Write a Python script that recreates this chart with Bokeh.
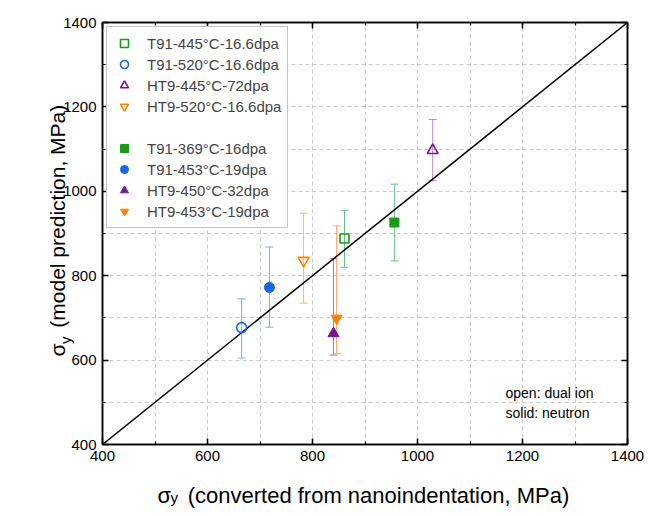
import math
from bokeh.plotting import figure
from bokeh.models import (ColumnDataSource, Whisker, TeeHead, Legend, LegendItem,
                          LinearAxis, FixedTicker, SingleIntervalTicker, Label, Range1d)
from bokeh.embed import file_html
from bokeh.resources import INLINE

# ---------------- data ----------------
labels_open = ["T91-445°C-16.6dpa", "T91-520°C-16.6dpa", "HT9-445°C-72dpa", "HT9-520°C-16.6dpa"]
x_open = [861, 665, 1029, 783]
y_open = [888, 677, 1097, 836]
lo_open = [820, 605, 1025, 735]
hi_open = [955, 745, 1170, 948]

labels_solid = ["T91-369°C-16dpa", "T91-453°C-19dpa", "HT9-450°C-32dpa", "HT9-453°C-19dpa"]
x_solid = [956, 718, 840, 846]
y_solid = [926, 772, 663, 699]
lo_solid = [835, 678, 612, 615]
hi_solid = [1017, 868, 840, 918]

markers = ["square", "circle", "triangle", "inverted_triangle"]
colors = ["#1a9a1a", "#1a64e6", "#7a1490", "#ff8000"]
bar_colors = ["#66c08a", "#74aef0", "#c27fd6", "#ffb45e"]
solid_bar_colors = ["#66c08a", "#74aef0", "#d06a9a", "#ff9f6a"]

grid_vals = [500, 600, 700, 800, 900, 1000, 1100, 1200, 1300]

FL, FT, FW, FH = 102, 22, 525, 422
FONT = "Liberation Sans"

p = figure(frame_width=FW, frame_height=FH, x_range=Range1d(400, 1400), y_range=Range1d(400, 1400),
           output_backend="svg", toolbar_location=None,
           min_border_left=FL, min_border_right=648 - FL - FW, min_border_top=FT,
           min_border_bottom=516 - FT - FH)
p.background_fill_color = "white"
p.border_fill_color = "white"
p.outline_line_color = "black"
p.outline_line_width = 1.5

def style_axis(ax, show_labels):
    ax.ticker = SingleIntervalTicker(interval=200, num_minor_ticks=2)
    ax.major_tick_in = 6
    ax.major_tick_out = 0
    ax.minor_tick_in = 3
    ax.minor_tick_out = 0
    ax.axis_line_width = 1.5
    ax.major_tick_line_width = 1.5
    ax.minor_tick_line_width = 1.2
    if show_labels:
        ax.major_label_text_font = FONT
        ax.major_label_text_font_size = "15px"
        ax.major_label_text_color = "black"
        ax.major_label_standoff = 6
    else:
        ax.major_label_text_alpha = 0
        ax.major_label_text_color = None
        ax.major_label_standoff = 0

style_axis(p.xaxis[0], True)
style_axis(p.yaxis[0], True)
for loc in ("above", "right"):
    ax = LinearAxis()
    style_axis(ax, False)
    p.add_layout(ax, loc)

for g in (p.xgrid[0], p.ygrid[0]):
    g.ticker = FixedTicker(ticks=grid_vals)
    g.grid_line_color = "#c8c8c8"
    g.grid_line_dash = "4 3"
    g.grid_line_width = 1

p.line(x=[400, 1400], y=[400, 1400], line_color="black", line_width=1.5)

def add_whiskers(xs, lo, hi, cols):
    for xv, l, h, c in zip(xs, lo, hi, cols):
        src = ColumnDataSource(dict(x=[xv], lower=[l], upper=[h]))
        w = Whisker(source=src, base="x", lower="lower", upper="upper", line_color=c, line_width=1,
                    upper_head=TeeHead(size=8, line_color=c, line_width=1),
                    lower_head=TeeHead(size=8, line_color=c, line_width=1))
        p.add_layout(w)

add_whiskers(x_open, lo_open, hi_open, bar_colors)
add_whiskers(x_solid, lo_solid, hi_solid, solid_bar_colors)

sizes = [9, 10, 11, 11]
items = []
for i in range(4):
    r = p.scatter(x=[x_open[i]], y=[y_open[i]], marker=markers[i], size=sizes[i],
                  line_color=colors[i], fill_color=None, line_width=1.6)
    items.append(LegendItem(label=labels_open[i], renderers=[r]))
blank = p.scatter(x=[400], y=[400], marker="circle", size=1, alpha=0)
items.append(LegendItem(label=" ", renderers=[blank]))
for i in range(4):
    r = p.scatter(x=[x_solid[i]], y=[y_solid[i]], marker=markers[i], size=sizes[i],
                  line_color=colors[i], fill_color=colors[i], line_width=1)
    items.append(LegendItem(label=labels_solid[i], renderers=[r]))

legend = Legend(items=items, location="top_left", margin=4, padding=6, spacing=1,
                glyph_width=22, glyph_height=20, label_height=15, label_standoff=12,
                label_text_font=FONT, label_text_font_size="15px",
                border_line_color="#888888", border_line_width=1,
                background_fill_color="white", background_fill_alpha=1)
p.add_layout(legend, "center")

def px2x(px):
    return 400 + (px - FL) * 1000.0 / FW

def py2y(py):
    return 1400 - (py - FT) * 1000.0 / FH

for txt, py in (("open: dual ion", 392), ("solid: neutron", 412)):
    p.add_layout(Label(x=px2x(505), y=py2y(py), text=txt,
                       text_font=FONT, text_font_size="14px", text_baseline="middle",
                       text_align="left", text_color="black"))

# axis titles: sigma with subscript y, placed in the side panels
# (each side-panel label sits in its own stacked slot, ~20px further out)
SLOT = 20
XFS, YFS = 22, 21
GAP = "\u00a0\u00a0\u2009"   # non-collapsing room for the subscript
xs0, xy0 = 55, -7
p.add_layout(Label(x=xs0, y=xy0, x_units="screen", y_units="screen",
                   text="σ" + GAP + "(converted from nanoindentation, MPa)",
                   text_font=FONT, text_font_size=f"{XFS}px", text_baseline="middle",
                   text_align="left", text_color="black"), "below")
p.add_layout(Label(x=xs0 + 0.57 * XFS + 0.5, y=xy0 - 5 + SLOT, x_units="screen", y_units="screen",
                   text="y", text_font=FONT, text_font_size="15px", text_baseline="middle",
                   text_align="left", text_color="black"), "below")
yx0, yy0 = 20, 88
p.add_layout(Label(x=yx0, y=yy0, x_units="screen", y_units="screen",
                   text="σ" + GAP + "(model prediction, MPa)", angle=math.pi / 2,
                   text_font=FONT, text_font_size=f"{YFS}px", text_baseline="middle",
                   text_align="left", text_color="black"), "left")
p.add_layout(Label(x=yx0 + 5 + SLOT, y=yy0 + 0.57 * YFS + 0.5, x_units="screen", y_units="screen",
                   text="y", angle=math.pi / 2, text_font=FONT, text_font_size="15px",
                   text_baseline="middle", text_align="left", text_color="black"), "left")

open("out.html", "w").write(file_html(p, INLINE))
